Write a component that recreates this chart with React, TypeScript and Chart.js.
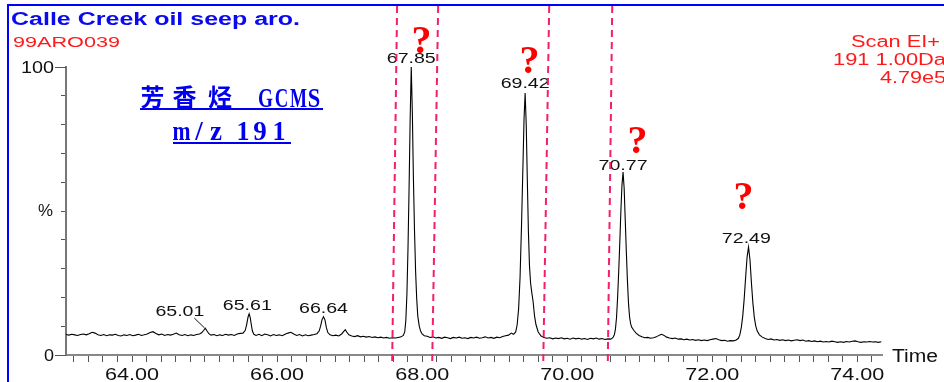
import React, { useEffect, useRef } from 'react';
import { Chart, registerables } from 'chart.js';

Chart.register(...registerables);

// ---- chromatogram trace (retention time in min, relative intensity in %) ----
const scanStart: [number, number][] = [
  [63.09, 7.1], [63.13, 6.9], [63.17, 7.2], [63.21, 7.0], [63.25, 6.8], [63.29, 7.1], [63.33, 7.3],
  [63.37, 7.0], [63.41, 7.4], [63.45, 7.9], [63.49, 7.6], [63.53, 7.0], [63.57, 6.8], [63.61, 7.1],
  [63.65, 6.7], [63.69, 7.0], [63.73, 6.9], [63.77, 7.2], [63.81, 6.8], [63.85, 6.6], [63.89, 7.0],
  [63.93, 6.8], [63.97, 7.1], [64.01, 6.7], [64.05, 6.9], [64.09, 7.2], [64.13, 6.8], [64.17, 7.0],
  [64.21, 7.3], [64.25, 7.8], [64.29, 8.1], [64.33, 7.5], [64.37, 7.0], [64.41, 7.3], [64.45, 6.8],
  [64.49, 7.1], [64.53, 6.9], [64.57, 7.2], [64.61, 7.6], [64.65, 7.0], [64.69, 6.8], [64.73, 7.1],
  [64.77, 6.7], [64.81, 7.0], [64.85, 6.8], [64.89, 7.1],
];
const peak6501: [number, number][] = [
  [64.93, 7.3], [64.96, 7.7], [64.99, 8.6], [65.01, 9.3], [65.03, 8.5], [65.06, 7.4], [65.09, 6.9],
  [65.13, 7.1], [65.17, 6.7], [65.21, 7.0], [65.25, 6.8], [65.29, 7.2], [65.33, 6.9], [65.37, 7.1],
  [65.41, 6.8], [65.45, 7.3], [65.49, 7.5],
];
const peak6561: [number, number][] = [
  [65.53, 7.6], [65.56, 8.5], [65.58, 10.5], [65.6, 13.2], [65.615, 14.3], [65.63, 13.0], [65.645, 10.5],
  [65.66, 8.3], [65.68, 7.2], [65.71, 6.8], [65.75, 7.2], [65.79, 6.7], [65.83, 7.3], [65.87, 7.0],
  [65.91, 6.6], [65.95, 7.1], [65.99, 6.8], [66.03, 7.0], [66.07, 6.7], [66.11, 7.2], [66.15, 7.6],
  [66.19, 7.9], [66.23, 7.3], [66.27, 6.8], [66.31, 7.1], [66.35, 6.6], [66.39, 7.0], [66.43, 6.7],
  [66.47, 6.9], [66.51, 7.1], [66.55, 7.4],
];
const peak6664: [number, number][] = [
  [66.58, 8.3], [66.6, 10.0], [66.62, 12.3], [66.64, 13.3], [66.66, 12.2], [66.68, 9.5], [66.7, 7.8],
  [66.73, 7.0], [66.77, 6.7], [66.81, 6.9], [66.85, 6.6], [66.89, 7.3], [66.92, 8.2], [66.94, 8.8],
  [66.96, 8.0], [66.99, 7.0], [67.03, 6.6], [67.07, 6.4], [67.11, 6.7], [67.15, 6.3], [67.19, 6.5],
  [67.23, 6.2], [67.27, 6.4], [67.31, 6.1], [67.35, 6.3], [67.39, 6.0], [67.43, 6.2], [67.47, 5.9],
  [67.51, 6.1], [67.55, 5.8], [67.59, 6.0], [67.63, 5.9], [67.67, 6.1], [67.71, 6.3],
];
const peak6785: [number, number][] = [
  [67.74, 6.8], [67.76, 8.0], [67.775, 12], [67.79, 21], [67.805, 37], [67.82, 58], [67.835, 82],
  [67.85, 100], [67.865, 84], [67.88, 61], [67.895, 43], [67.91, 29], [67.925, 19.5], [67.94, 13.5],
  [67.96, 10], [67.98, 8.2], [68.0, 7.3], [68.03, 6.7], [68.07, 6.5], [68.11, 6.1],
];
const midBaseline: [number, number][] = [
  [68.15, 6.3], [68.19, 5.9], [68.23, 6.1], [68.27, 5.8], [68.31, 6.2], [68.35, 6.0], [68.39, 5.7],
  [68.43, 6.1], [68.47, 5.9], [68.51, 6.2], [68.55, 5.8], [68.59, 6.0], [68.63, 5.7], [68.67, 6.1],
  [68.71, 5.9], [68.75, 6.2], [68.79, 5.8], [68.83, 6.0], [68.87, 6.3], [68.91, 5.9], [68.95, 6.1],
  [68.99, 5.8], [69.03, 6.2], [69.07, 6.0], [69.11, 6.4], [69.15, 6.7], [69.19, 6.9], [69.23, 7.6],
  [69.26, 7.2], [69.29, 8.0],
];
const peak6942: [number, number][] = [
  [69.31, 10.5], [69.33, 16], [69.35, 27], [69.37, 45], [69.39, 66], [69.405, 82], [69.42, 91],
  [69.435, 80], [69.45, 61], [69.465, 43], [69.48, 31], [69.495, 25], [69.51, 22], [69.53, 18.5],
  [69.55, 13.5], [69.57, 10.5], [69.6, 8.0], [69.64, 6.6], [69.68, 6.1], [69.72, 5.8], [69.76, 6.0],
  [69.8, 5.6], [69.84, 5.9], [69.88, 5.7], [69.92, 6.0], [69.96, 5.6], [70.0, 5.8], [70.04, 5.5],
  [70.08, 5.9], [70.12, 5.6], [70.16, 5.8], [70.2, 5.5], [70.24, 5.7], [70.28, 5.4], [70.32, 5.8],
  [70.36, 5.6], [70.4, 5.9], [70.44, 5.5], [70.48, 5.7], [70.52, 5.4], [70.56, 5.6], [70.6, 5.5],
];
const peak7077: [number, number][] = [
  [70.63, 6.0], [70.65, 7.0], [70.665, 9], [70.68, 13], [70.695, 20], [70.71, 29], [70.725, 39],
  [70.74, 50], [70.755, 59], [70.77, 63.5], [70.785, 58], [70.8, 47], [70.815, 36], [70.83, 26],
  [70.845, 18], [70.86, 13.2], [70.875, 10.8], [70.89, 9.6], [70.92, 8.5], [70.95, 7.6], [70.99, 6.8],
  [71.03, 6.3], [71.07, 6.0], [71.11, 6.1], [71.15, 5.8], [71.19, 6.0], [71.23, 6.3], [71.27, 6.9],
  [71.3, 7.2], [71.33, 6.9], [71.37, 6.2], [71.41, 5.9], [71.45, 5.7], [71.49, 5.9], [71.53, 5.5],
  [71.57, 5.6], [71.61, 5.3], [71.65, 5.5], [71.69, 5.2], [71.73, 5.4], [71.77, 5.1], [71.81, 5.3],
  [71.85, 5.0], [71.89, 5.2], [71.93, 5.0], [71.97, 5.3], [72.01, 5.5], [72.05, 5.7], [72.09, 5.3],
  [72.13, 5.0], [72.17, 5.1], [72.21, 4.8], [72.25, 5.0], [72.29, 4.9], [72.33, 5.2],
];
const peak7249: [number, number][] = [
  [72.36, 5.8], [72.38, 7], [72.4, 9.5], [72.42, 13.5], [72.44, 19.5], [72.46, 27], [72.48, 34],
  [72.5, 37.5], [72.52, 33], [72.54, 25], [72.56, 18], [72.58, 13], [72.6, 10], [72.62, 8.3],
  [72.65, 7.0], [72.69, 6.2], [72.73, 5.7], [72.77, 5.4], [72.81, 5.6], [72.85, 5.2], [72.89, 5.4],
  [72.93, 5.1], [72.97, 5.3], [73.01, 5.0], [73.05, 5.2], [73.09, 4.9], [73.13, 5.1], [73.17, 5.3],
  [73.21, 5.0], [73.25, 5.2], [73.29, 4.8], [73.33, 5.0], [73.37, 4.7], [73.41, 4.9], [73.45, 4.6],
  [73.49, 4.8], [73.53, 4.5], [73.57, 4.7], [73.61, 4.5], [73.65, 4.8], [73.69, 4.6], [73.73, 4.4],
  [73.77, 4.6], [73.81, 4.4], [73.85, 4.7], [73.89, 4.5], [73.93, 4.8], [73.97, 4.9], [74.01, 4.6],
  [74.05, 4.4], [74.09, 4.6], [74.13, 4.5], [74.17, 4.7], [74.21, 4.5], [74.25, 4.6], [74.29, 4.4],
  [74.33, 4.6],
];

// ---- axis ----
const timeMin = 63.09;
const timeMax = 74.34;
const xTickLabels = ['64.00', '66.00', '68.00', '70.00', '72.00', '74.00'];

// ---- peak labels ----
const peakLabels = ['67.85', '69.42', '70.77', '72.49', '65.01', '65.61', '66.64'];
const peakLabelTimes = [67.85, 69.42, 70.77, 72.47, 64.66, 65.59, 66.64];
const peakLabelLevels = [101.4, 92.7, 64.2, 38.9, 13.5, 15.6, 14.6];

// ---- question marks ----
const questionTimes = [67.99, 69.48, 70.97, 72.43];
const questionLevels = [104.9, 97.9, 70.1, 50.7];

// ---- dashed marker lines (top / bottom time) ----
const markerTopTimes = [67.655, 68.221, 69.752, 70.621];
const markerBottomTimes = [67.586, 68.138, 69.669, 70.559];

const trace = [
  ...scanStart, ...peak6501, ...peak6561, ...peak6664, ...peak6785,
  ...midBaseline, ...peak6942, ...peak7077, ...peak7249,
].map(([t, v]) => ({ x: t, y: v }));

const SANS = '"Liberation Sans", Arial, sans-serif';

function fitText(
  ctx: CanvasRenderingContext2D, text: string, x: number, y: number,
  font: string, color: string, width: number, align: 'left' | 'center' | 'right'
) {
  ctx.save();
  ctx.font = font;
  ctx.fillStyle = color;
  ctx.textAlign = 'left';
  ctx.textBaseline = 'alphabetic';
  const w = ctx.measureText(text).width || 1;
  const sx = width / w;
  const left = align === 'left' ? x : align === 'center' ? x - width / 2 : x - width;
  ctx.translate(left, y);
  ctx.scale(sx, 1);
  ctx.fillText(text, 0, 0);
  ctx.restore();
}

function centerChar(ctx: CanvasRenderingContext2D, ch: string, cx: number, y: number, font: string, maxW: number) {
  ctx.font = font;
  ctx.textAlign = 'center';
  ctx.textBaseline = 'alphabetic';
  ctx.fillText(ch, cx, y, maxW);
}

const overlayPlugin = {
  id: 'overlay',
  afterDraw(chart: any) {
    const ctx: CanvasRenderingContext2D = chart.ctx;
    const xs = chart.scales.x;
    const ys = chart.scales.y;
    const area = chart.chartArea;
    ctx.save();

    // blue frame
    ctx.fillStyle = '#0000ff';
    ctx.fillRect(7, 4, 937, 2);
    ctx.fillRect(7, 4, 2, 378);

    // header texts
    fitText(ctx, 'Calle Creek oil seep aro.', 11, 25, `bold 18px ${SANS}`, '#0a0aee', 289, 'left');
    fitText(ctx, '99ARO039', 13, 47, `15px ${SANS}`, '#ff1a1a', 107, 'left');
    fitText(ctx, 'Scan EI+', 940, 47, `16px ${SANS}`, '#ff1a1a', 89, 'right');
    fitText(ctx, '191 1.00Da', 946, 65, `16px ${SANS}`, '#ff1a1a', 113, 'right');
    fitText(ctx, '4.79e5', 946, 83, `16px ${SANS}`, '#ff1a1a', 66, 'right');

    // y labels and long ticks
    ctx.strokeStyle = '#555';
    ctx.lineWidth = 1;
    [0, 100].forEach((v) => {
      const py = Math.round(ys.getPixelForValue(v)) + 0.5;
      ctx.beginPath();
      ctx.moveTo(area.left - 11, py);
      ctx.lineTo(area.left, py);
      ctx.stroke();
    });
    fitText(ctx, '100', 54, ys.getPixelForValue(100) + 6, `16px ${SANS}`, '#111', 33, 'right');
    fitText(ctx, '0', 54, ys.getPixelForValue(0) + 6, `16px ${SANS}`, '#111', 10, 'right');
    fitText(ctx, '%', 53, ys.getPixelForValue(50) + 5, `16px ${SANS}`, '#111', 15, 'right');

    // x labels
    xTickLabels.forEach((lab) => {
      const px = xs.getPixelForValue(parseFloat(lab));
      fitText(ctx, lab, px, area.bottom + 25, `17px ${SANS}`, '#111', 54, 'center');
    });
    fitText(ctx, 'Time', area.right + 10, area.bottom + 7, `18px ${SANS}`, '#111', 46, 'left');

    // peak labels
    peakLabels.forEach((lab, i) => {
      const px = xs.getPixelForValue(peakLabelTimes[i]);
      const py = ys.getPixelForValue(peakLabelLevels[i]);
      fitText(ctx, lab, px, py, `15.5px ${SANS}`, '#111', 49, 'center');
    });
    // leader line for 65.01
    ctx.strokeStyle = '#111';
    ctx.lineWidth = 1;
    ctx.beginPath();
    ctx.moveTo(xs.getPixelForValue(64.86), ys.getPixelForValue(12.8));
    ctx.lineTo(xs.getPixelForValue(65.0), ys.getPixelForValue(9.4));
    ctx.stroke();

    // dashed marker lines
    ctx.strokeStyle = '#f0206e';
    ctx.lineWidth = 2;
    ctx.setLineDash([7, 5]);
    markerTopTimes.forEach((t, i) => {
      ctx.beginPath();
      ctx.moveTo(xs.getPixelForValue(t), 6);
      ctx.lineTo(xs.getPixelForValue(markerBottomTimes[i]), area.bottom + 11);
      ctx.stroke();
    });
    ctx.setLineDash([]);

    // question marks
    ctx.fillStyle = '#ff0000';
    questionTimes.forEach((t, i) => {
      centerChar(ctx, '?', xs.getPixelForValue(t), ys.getPixelForValue(questionLevels[i]),
        'bold 40px "Liberation Serif", "Times New Roman", serif', 40);
    });

    // Chinese annotation block
    const blue = '#0000ee';
    const latA = 'bold 27px "Liberation Serif", serif';
    fitText(ctx, 'G', 265.5, 107, latA, blue, 15, 'center');
    fitText(ctx, 'C', 281.5, 107, latA, blue, 13.5, 'center');
    fitText(ctx, 'M', 298.5, 107, latA, blue, 17, 'center');
    fitText(ctx, 'S', 314, 107, latA, blue, 12.5, 'center');
    ctx.fillStyle = blue;
    const cjk = 'bold 24px "Noto Sans CJK SC", sans-serif';
    centerChar(ctx, '芳', 152.5, 106, cjk, 30);
    centerChar(ctx, '香', 184.5, 106, cjk, 30);
    centerChar(ctx, '烃', 220, 106, cjk, 30);
    ctx.fillRect(140, 108, 183, 2);
    const lat2 = 'bold 27px "Liberation Serif", serif';
    centerChar(ctx, 'm', 181.5, 140, lat2, 18);
    centerChar(ctx, '/', 199, 140, lat2, 12);
    centerChar(ctx, 'z', 216, 140, lat2, 13);
    centerChar(ctx, '1', 243, 140, lat2, 13);
    centerChar(ctx, '9', 260, 140, lat2, 15);
    centerChar(ctx, '1', 279, 140, lat2, 13);
    ctx.fillRect(173, 142, 118, 2);

    ctx.restore();
  },
};

export default function App() {
  const ref = useRef<HTMLCanvasElement | null>(null);
  useEffect(() => {
    if (!ref.current) return;
    const chart = new Chart(ref.current, {
      type: 'line',
      data: {
        datasets: [{
          data: trace,
          borderColor: '#000',
          borderWidth: 1.1,
          pointRadius: 0,
          tension: 0,
          fill: false,
        }],
      },
      options: {
        responsive: false,
        animation: false,
        devicePixelRatio: 1,
        layout: { padding: { top: 67, right: 62, left: 0, bottom: 0 } },
        plugins: { legend: { display: false }, tooltip: { enabled: false } },
        scales: {
          x: {
            type: 'linear',
            min: timeMin,
            max: timeMax,
            ticks: { display: false, stepSize: 0.2, includeBounds: false, maxTicksLimit: 200 },
            grid: { drawOnChartArea: false, drawTicks: true, tickLength: 7, color: '#555', tickWidth: 1 },
            border: { display: true, color: '#888', width: 2 },
            afterFit: (s: any) => { s.height = 27; },
          },
          y: {
            min: 0,
            max: 100,
            ticks: { display: false, stepSize: 10, maxTicksLimit: 200 },
            grid: { drawOnChartArea: false, drawTicks: true, tickLength: 5, color: '#555', tickWidth: 1 },
            border: { display: true, color: '#777', width: 2 },
            afterFit: (s: any) => { s.width = 66; },
          },
        },
      },
      plugins: [overlayPlugin],
    } as any);
    return () => chart.destroy();
  }, []);
  return (
    <div style={{ position: 'fixed', left: 0, top: 0, width: 944, height: 382, background: '#fff' }}>
      <canvas ref={ref} width={944} height={382} style={{ display: 'block', width: 944, height: 382 }} />
    </div>
  );
}
